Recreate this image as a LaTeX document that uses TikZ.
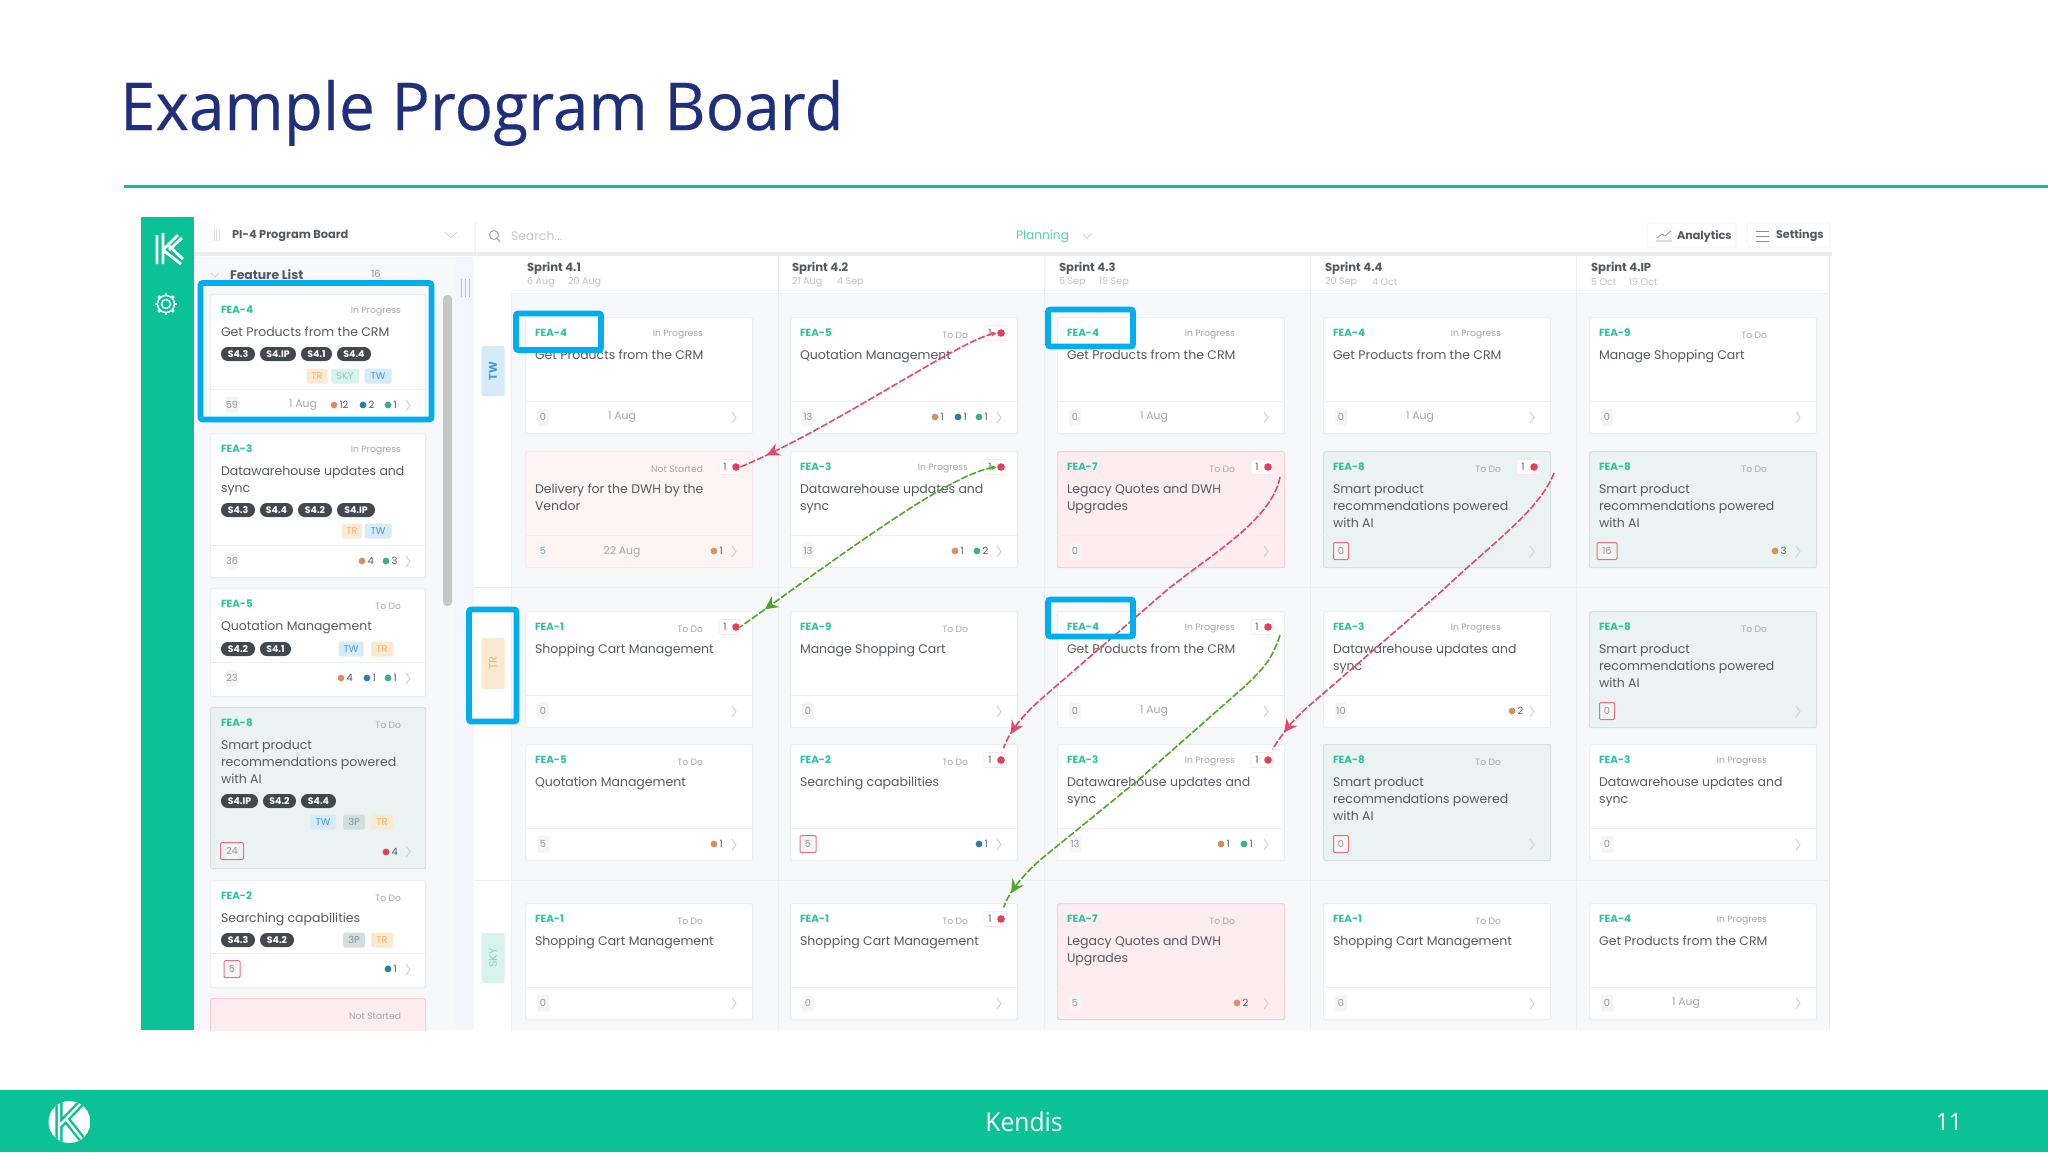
\documentclass[tikz,border=0pt]{standalone}
\usepackage{fontspec}
\setmainfont{Poppins}
\newfontfamily\slidefont[FakeStretch=0.967,FakeBold=0.25]{Open Sans}
\newfontfamily\footfont[FakeStretch=0.95]{Open Sans}
\usetikzlibrary{arrows.meta,decorations.markings}
\definecolor{kendis}{HTML}{0BC196}
\definecolor{navy}{HTML}{1F2F7C}
\definecolor{hilite}{HTML}{00AEEF}
\definecolor{inkdark}{HTML}{55595F}
\definecolor{inkgray}{HTML}{A4A7AB}
\definecolor{pilldark}{HTML}{42484F}
\definecolor{idgreen}{HTML}{2CC29C}
\definecolor{boardbg}{HTML}{F7F8FA}
\definecolor{linegray}{HTML}{ECEEF0}
\definecolor{cardgreen}{HTML}{EAF3F1}
\definecolor{cardpink}{HTML}{FDECF0}
\definecolor{cardrose}{HTML}{FDF4F3}
\definecolor{dotorange}{HTML}{D9905F}
\definecolor{dotblue}{HTML}{2E7FA8}
\definecolor{dotgreen}{HTML}{3FAF86}
\definecolor{dotred}{HTML}{E2405A}
\definecolor{linkred}{HTML}{E04A68}
\definecolor{linkgreen}{HTML}{4FA62C}
\definecolor{tagTRbg}{HTML}{FCE9D2}
\definecolor{tagTRfg}{HTML}{EDB36A}
\definecolor{tagSKYbg}{HTML}{D8F2EC}
\definecolor{tagSKYfg}{HTML}{86D6C4}
\definecolor{tagTWbg}{HTML}{D6EAF8}
\definecolor{tagTWfg}{HTML}{3F9BDD}
\definecolor{tagPbg}{HTML}{D3DEE0}
\definecolor{tagPfg}{HTML}{7E9098}
\tikzset{
  txt/.style={inner sep=0pt,outer sep=0pt},
  idtext/.style={txt,anchor=west,text=idgreen,font=\fontsize{5.2}{6}\selectfont\bfseries},
  statustext/.style={txt,anchor=east,text=inkgray,font=\fontsize{4.6}{6}\selectfont},
  titletext/.style={txt,anchor=north west,align=left,text=inkdark,font=\fontsize{6.25}{8.5}\selectfont},
  datetext/.style={txt,text=inkgray,font=\fontsize{5.4}{6}\selectfont},
  sprinttext/.style={txt,anchor=west,text=inkdark,font=\fontsize{5.8}{6}\selectfont\bfseries},
  sprintdate/.style={txt,anchor=west,text=inkgray!70,font=\fontsize{4.8}{6}\selectfont},
  numtext/.style={txt,text=inkdark,font=\fontsize{5}{6}\selectfont},
  cardbox/.style={draw=linegray,fill=white,line width=.6pt,rounded corners=1pt,anchor=north west,inner sep=0pt},
  plaincard/.style={},
  greencard/.style={fill=cardgreen,draw=cardgreen!92!black},
  pinkcard/.style={fill=cardpink,draw=dotred!25},
  rosecard/.style={fill=cardrose,draw=dotred!12},
  divider/.style={draw=linegray,line width=.5pt},
  countbox/.style={txt,fill=black!4,rounded corners=1pt,minimum width=6pt,minimum height=8.5pt,text=inkgray!90!black,font=\fontsize{4.9}{6}\selectfont},
  redcount/.style={draw=dotred!75,line width=.5pt,rounded corners=.6pt,minimum height=8.5pt,inner sep=0pt},
  chev/.style={draw=black!18,line width=.5pt},
  pill/.style={txt,anchor=west,fill=pilldark,text=white,rounded corners=3.4pt,minimum height=7pt,font=\fontsize{4.7}{6}\selectfont\bfseries},
  teamtag/.style={txt,rounded corners=.8pt,minimum height=7.5pt,font=\fontsize{4.9}{6}\selectfont},
  tagTR/.style={teamtag,fill=tagTRbg,text=tagTRfg},
  tagSKY/.style={teamtag,fill=tagSKYbg,text=tagSKYfg},
  tagTW/.style={teamtag,fill=tagTWbg,text=tagTWfg},
  tag3P/.style={teamtag,fill=tagPbg,text=tagPfg},
  statdot/.style={circle,inner sep=0pt,minimum size=3.4pt},
  flagbox/.style={fill=white,draw=dotred!12,line width=.3pt,rounded corners=.8pt,minimum width=11pt,minimum height=7.5pt,inner sep=0pt},
  hibox/.style={draw=hilite,line width=2.8pt,rounded corners=1pt},
  redlink/.style={draw=linkred,line width=.8pt,dash pattern=on 3.5pt off 1pt},
  greenlink/.style={draw=linkgreen,line width=.8pt,dash pattern=on 3.5pt off 1pt},
  linkmark/.style={postaction={decorate,decoration={markings,mark=at position #1 with {\arrow{Stealth[length=6.5pt,width=6.5pt]}}}}},
  btnbox/.style={draw=linegray,fill=white,line width=.4pt,rounded corners=1pt},
}
% name, x, y, id, status, title, card style, count, date
\newcommand{\boardcard}[9]{%
  \begin{scope}[shift={(#2,#3)}]
    \node[cardbox,#7,minimum width=113.5pt,minimum height=58pt] (#1) at (0,0) {};
    \draw[divider] (0,84) -- (227,84);
    \node[idtext] (#1-id) at (10,16) {#4};
    \node[statustext] (#1-status) at (178,18) {#5};
    \node[titletext] (#1-title) at (10,33) {#6};
    \node[countbox] (#1-count) at (18,100) {#8};
    \node[datetext] (#1-date) at (97,100.5) {#9};
    \draw[chev] (207,95) -- (211,100.5) -- (207,106);
  \end{scope}}
% name, y, height, divider, id, status, title, card style, count
\newcommand{\featurecard}[9]{%
  \begin{scope}[shift={(210,#2)}]
    \node[cardbox,#8,minimum width=107.5pt,minimum height=#3*0.5pt] (#1) at (0,0) {};
    \draw[divider] (0,#4) -- (215,#4);
    \node[idtext] (#1-id) at (11,16) {#5};
    \node[statustext] (#1-status) at (191,18) {#6};
    \node[titletext] (#1-title) at (11,33) {#7};
    \node[countbox] (#1-count) at (22,#4+16) {#9};
    \draw[chev] (196,#4+11) -- (200,#4+16.5) -- (196,#4+22);
  \end{scope}}
% red 1 and dot at the top right of a card
\newcommand{\cardflag}[1]{%
  \begin{scope}[shift={(#1.north west)}]
    \node[flagbox] (#1-flag) at (205,16) {};
    \node[numtext] (#1-flagnum) at (200,16) {1};
    \node[statdot,fill=dotred,minimum size=3.8pt] (#1-flagdot) at (211,16) {};
  \end{scope}}
% card, footer y, list of x/colour/number
\newcommand{\cardstats}[3]{%
  \begin{scope}[shift={(#1.north west)}]
    \foreach \sx/\scol/\snum in {#3} {
      \node[statdot,fill=\scol] (#1-d\sx) at (\sx,#2) {};
      \node[numtext,anchor=west] (#1-n\sx) at (\sx+5.5,#2) {\snum};
    }
  \end{scope}}
% card, y, list of x/width/text
\newcommand{\cardpills}[3]{%
  \begin{scope}[shift={(#1.north west)}]
    \foreach \px/\pw/\ptxt in {#3}
      \node[pill,minimum width=\pw*0.5pt] (#1-p\px) at (\px,#2) {\ptxt};
  \end{scope}}
% card, y, list of x/width/tag name
\newcommand{\cardtags}[3]{%
  \begin{scope}[shift={(#1.north west)}]
    \foreach \tx/\tw/\ttxt in {#3}
      \node[tag\ttxt,minimum width=\tw*0.5pt] (#1-t\tx) at (\tx,#2) {\ttxt};
  \end{scope}}
\newcommand{\getcrm}{Get Products from the CRM}
\newcommand{\dwh}{Datawarehouse updates and\\sync}
\newcommand{\smartai}{Smart product\\recommendations powered\\with AI}
\newcommand{\cart}{Shopping Cart Management}
\newcommand{\legacy}{Legacy Quotes and DWH\\Upgrades}
\begin{document}
\begin{tikzpicture}[x=0.5pt,y=-0.5pt]
  \useasboundingbox (0,0) rectangle (2048,1152);
  % Slide title and rule
  \node[txt,anchor=base west,text=navy,font=\slidefont\fontsize{33}{36}\selectfont] (slidetitle) at (120,130) {Example Program Board};
  \draw[kendis,line width=1.6pt] (124,186.5) -- (2048,186.5);
  % Footer band
  \fill[kendis] (0,1090) rectangle (2048,1152);
  \node[txt,text=white,font=\footfont\fontsize{13}{16}\selectfont] (footname) at (1024,1122) {Kendis};
  \node[txt,text=white,font=\footfont\fontsize{12}{16}\selectfont] (footpage) at (1949,1122) {11};
  % Footer logo
  \begin{scope}
    \clip (69.5,1122) circle (21);
    \fill[white] (69.5,1122) circle (21);
    \draw[kendis,line width=3.6pt] (59,1098) -- (59,1146) (59,1126) -- (84,1100) (66,1119) -- (86,1144);
    \draw[white,line width=1.2pt] (59,1098) -- (59,1146) (59,1126) -- (84,1100) (66,1119) -- (86,1144);
  \end{scope}
  % Screenshot of the board
  \begin{scope}
    \clip (141,217) rectangle (1832,1030);
    \fill[white] (141,217) rectangle (1832,1030);
    \fill[kendis] (141,217) rectangle (194,1030);
    \fill[boardbg] (194,257) rectangle (455,1030);
    \fill[black!4!blue!4!white] (455,257) rectangle (474,1030);
    \fill[boardbg] (511,293) rectangle (1829,1030);
    \fill[black!7] (194,252) rectangle (1832,256);
    % Sidebar logo and gear
    \draw[white,line width=1.4pt] (157,235) -- (157,264) (163,233) -- (163,264) (163,250) -- (178,235) (163,250) -- (181,264) (169,250) -- (182,238) (169,246) -- (183,259);
    \draw[white,line width=.7pt] (166,304) circle (4.5) (166,304) circle (8.5);
    \foreach \ga in {0,45,...,315}
      \draw[white,line width=1.3pt] (166,304) ++(\ga:8.5) -- ++(\ga:2.5);
    % Top bar
    \foreach \hx in {214,216.5,219}
      \draw[black!15,line width=.4pt] (\hx,230) -- (\hx,241);
    \node[txt,anchor=west,text=inkdark,font=\fontsize{5.7}{6}\selectfont\bfseries] (boardname) at (232,236) {PI-4 Program Board};
    \draw[chev] (445,232) -- (451,238) -- (457,232);
    \draw[divider] (475,222) -- (475,252);
    \draw[black!35,line width=.5pt] (494,235) circle (4.5) (497,238.5) -- (500,242);
    \node[txt,anchor=west,text=black!22,font=\fontsize{6.2}{6}\selectfont] (searchtext) at (511,236) {Search...};
    \node[txt,anchor=west,text=idgreen!80,font=\fontsize{6.1}{6}\selectfont] (planning) at (1016,236) {Planning};
    \draw[chev] (1083,234) -- (1087,238) -- (1091,234);
    \draw[btnbox] (1647,223) rectangle (1736,247);
    \draw[btnbox] (1747,223) rectangle (1830,247);
    \draw[black!40,line width=.4pt] (1656,241) -- (1672,241) (1657,238) -- (1662,234) -- (1665,236) -- (1671,231);
    \node[txt,anchor=west,text=inkdark,font=\fontsize{5.6}{6}\selectfont\bfseries] (analytics) at (1677,236) {Analytics};
    \draw[black!45,line width=.5pt] (1756,231) -- (1769,231) (1756,236) -- (1769,236) (1756,241) -- (1769,241);
    \node[txt,anchor=west,text=inkdark,font=\fontsize{5.6}{6}\selectfont\bfseries] (settings) at (1776,236) {Settings};
    % Feature list head
    \draw[chev] (211,273) -- (215,277) -- (219,273);
    \node[txt,anchor=west,text=inkdark,font=\fontsize{6.2}{6}\selectfont\bfseries] (featlist) at (230,275) {Feature List};
    \node[countbox] (featcount) at (376,274) {16};
    % Scrollbar and handle
    \fill[black!22,rounded corners=2pt] (443,295) rectangle (452,606);
    \foreach \hx in {461,465,469}
      \draw[black!25,line width=.5pt] (\hx,279) -- (\hx,297);
    % Grid lines and sprint heads
    \foreach \gx in {778,1044,1310,1576,1829}
      \draw[divider] (\gx,256) -- (\gx,1030);
    \draw[divider] (511,293) -- (1829,293) (474,587) -- (1829,587) (474,880) -- (1829,880) (511,293) -- (511,1030);
    \node[sprinttext] (sp1) at (527,268) {Sprint 4.1};
    \node[sprintdate] (sp1a) at (527,282) {6 Aug};
    \node[sprintdate] (sp1b) at (568,282) {20 Aug};
    \node[sprinttext] (sp2) at (792,268) {Sprint 4.2};
    \node[sprintdate] (sp2a) at (792,282) {21 Aug};
    \node[sprintdate] (sp2b) at (837,282) {4 Sep};
    \node[sprinttext] (sp3) at (1059,268) {Sprint 4.3};
    \node[sprintdate] (sp3a) at (1059,282) {5 Sep};
    \node[sprintdate] (sp3b) at (1099,282) {19 Sep};
    \node[sprinttext] (sp4) at (1325,268) {Sprint 4.4};
    \node[sprintdate] (sp4a) at (1325,282) {20 Sep};
    \node[sprintdate] (sp4b) at (1372,282) {4 Oct};
    \node[sprinttext] (sp5) at (1591,268) {Sprint 4.IP};
    \node[sprintdate] (sp5a) at (1591,282) {5 Oct};
    \node[sprintdate] (sp5b) at (1629,282) {19 Oct};
    % Lane labels
    \node[tagTW,minimum width=11.5pt,minimum height=25pt,font=\fontsize{5.6}{6}\selectfont\bfseries] (laneTW) at (493,371) {\rotatebox{90}{TW}};
    \node[tagTR,minimum width=11.5pt,minimum height=25.5pt,font=\fontsize{5.6}{6}\selectfont] (laneTR) at (493,663.5) {\rotatebox{90}{TR}};
    \node[tagSKY,minimum width=11.5pt,minimum height=25pt,font=\fontsize{5.6}{6}\selectfont] (laneSKY) at (493,958) {\rotatebox{90}{SKY}};
    % Feature list cards
    \featurecard{f1}{294}{128}{95}{FEA-4}{In Progress}{\getcrm}{plaincard}{59}
    \node[datetext] (f1-date) at (303,405.5) {1 Aug};
    \cardpills{f1}{60}{11/34/S4.3,50/36/S4.IP,91/31/S4.1,127/34/S4.4}
    \cardtags{f1}{82}{107/21/TR,135/28/SKY,168/27/TW}
    \cardstats{f1}{111}{124/dotorange/12,153/dotblue/2,178/dotgreen/1}
    \featurecard{f2}{433}{144}{112}{FEA-3}{In Progress}{\dwh}{plaincard}{36}
    \cardpills{f2}{77}{11/34/S4.3,50/33/S4.4,88/34/S4.2,127/38/S4.IP}
    \cardtags{f2}{98}{142/20/TR,168/27/TW}
    \cardstats{f2}{128}{152/dotorange/4,176/dotgreen/3}
    \featurecard{f3}{588}{108}{74}{FEA-5}{To Do}{Quotation Management}{plaincard}{23}
    \cardpills{f3}{61}{11/34/S4.2,50/31/S4.1}
    \cardtags{f3}{61}{141/25/TW,172/22/TR}
    \cardstats{f3}{90}{131/dotorange/4,157/dotblue/1,178/dotgreen/1}
    \featurecard{f4}{707}{161}{128}{FEA-8}{To Do}{\smartai}{greencard}{24}
    \node[redcount,minimum width=11.5pt] (f4-red) at (f4-count) {};
    \cardpills{f4}{94}{11/37/S4.IP,53/33/S4.2,91/35/S4.4}
    \cardtags{f4}{115}{113/26/TW,144/22/3P,172/22/TR}
    \cardstats{f4}{145}{176/dotred/4}
    \featurecard{f5}{880}{107}{73}{FEA-2}{To Do}{Searching capabilities}{plaincard}{5}
    \node[redcount,minimum width=8pt] (f5-red) at (f5-count) {};
    \cardpills{f5}{60}{11/34/S4.3,50/34/S4.2}
    \cardtags{f5}{60}{144/22/3P,172/22/TR}
    \cardstats{f5}{89}{178/dotblue/1}
    \featurecard{f6}{998}{60}{60}{}{Not Started}{}{pinkcard}{}
    % Board cards, lane TW
    \boardcard{c11}{525}{317}{FEA-4}{In Progress}{\getcrm}{plaincard}{0}{1 Aug}
    \boardcard{c12}{790}{317}{FEA-5}{To Do}{Quotation Management}{plaincard}{13}{}
    \cardflag{c12}
    \cardstats{c12}{100}{145/dotorange/1,168/dotblue/1,189/dotgreen/1}
    \boardcard{c13}{1057}{317}{FEA-4}{In Progress}{\getcrm}{plaincard}{0}{1 Aug}
    \boardcard{c14}{1323}{317}{FEA-4}{In Progress}{\getcrm}{plaincard}{0}{1 Aug}
    \boardcard{c15}{1589}{317}{FEA-9}{To Do}{Manage Shopping Cart}{plaincard}{0}{}
    \boardcard{c21}{525}{451}{}{Not Started}{Delivery for the DWH by the\\Vendor}{rosecard}{5}{22 Aug}
    \cardflag{c21}
    \cardstats{c21}{100}{189/dotorange/1}
    \boardcard{c22}{790}{451}{FEA-3}{In Progress}{\dwh}{plaincard}{13}{}
    \cardflag{c22}
    \cardstats{c22}{100}{165/dotorange/1,187/dotgreen/2}
    \boardcard{c23}{1057}{451}{FEA-7}{To Do}{\legacy}{pinkcard}{0}{}
    \cardflag{c23}
    \boardcard{c24}{1323}{451}{FEA-8}{To Do}{\smartai}{greencard}{0}{}
    \cardflag{c24}
    \node[redcount,minimum width=7.5pt] (c24-red) at (c24-count) {};
    \boardcard{c25}{1589}{451}{FEA-8}{To Do}{\smartai}{greencard}{16}{}
    \node[redcount,minimum width=10pt] (c25-red) at (c25-count) {};
    \cardstats{c25}{100}{186/dotorange/3}
    % Board cards, lane TR
    \boardcard{c31}{525}{611}{FEA-1}{To Do}{\cart}{plaincard}{0}{}
    \cardflag{c31}
    \boardcard{c32}{790}{611}{FEA-9}{To Do}{Manage Shopping Cart}{plaincard}{0}{}
    \boardcard{c33}{1057}{611}{FEA-4}{In Progress}{\getcrm}{plaincard}{0}{1 Aug}
    \cardflag{c33}
    \boardcard{c34}{1323}{611}{FEA-3}{In Progress}{\dwh}{plaincard}{10}{}
    \cardstats{c34}{100}{189/dotorange/2}
    \boardcard{c35}{1589}{611}{FEA-8}{To Do}{\smartai}{greencard}{0}{}
    \node[redcount,minimum width=7.5pt] (c35-red) at (c35-count) {};
    \boardcard{c41}{525}{744}{FEA-5}{To Do}{Quotation Management}{plaincard}{5}{}
    \cardstats{c41}{100}{189/dotorange/1}
    \boardcard{c42}{790}{744}{FEA-2}{To Do}{Searching capabilities}{plaincard}{5}{}
    \node[redcount,minimum width=8pt] (c42-red) at (c42-count) {};
    \cardflag{c42}
    \cardstats{c42}{100}{189/dotblue/1}
    \boardcard{c43}{1057}{744}{FEA-3}{In Progress}{\dwh}{plaincard}{13}{}
    \cardflag{c43}
    \cardstats{c43}{100}{164/dotorange/1,187/dotgreen/1}
    \boardcard{c44}{1323}{744}{FEA-8}{To Do}{\smartai}{greencard}{0}{}
    \node[redcount,minimum width=7.5pt] (c44-red) at (c44-count) {};
    \boardcard{c45}{1589}{744}{FEA-3}{In Progress}{\dwh}{plaincard}{0}{}
    % Board cards, lane SKY
    \boardcard{c51}{525}{903}{FEA-1}{To Do}{\cart}{plaincard}{0}{}
    \boardcard{c52}{790}{903}{FEA-1}{To Do}{\cart}{plaincard}{0}{}
    \cardflag{c52}
    \boardcard{c53}{1057}{903}{FEA-7}{To Do}{\legacy}{pinkcard}{5}{}
    \cardstats{c53}{100}{180/dotorange/2}
    \boardcard{c54}{1323}{903}{FEA-1}{To Do}{\cart}{plaincard}{0}{}
    \boardcard{c55}{1589}{903}{FEA-4}{In Progress}{\getcrm}{plaincard}{0}{1 Aug}
    % Dependency links
    \coordinate (lk3) at (1280,477);
    \coordinate (lk4) at (1554,473);
    \coordinate (lk5) at (1280,635);
    \draw[redlink,linkmark=.9,{Stealth[length=3pt,width=2.6pt]}-] (c12-flagdot.west) .. controls (960,340) and (830,430) .. (c21-flagdot.east);
    \draw[greenlink,linkmark=.9,{Stealth[length=3pt,width=2.6pt]}-] (c22-flagdot.west) .. controls (950,474) and (848,550) .. (c31-flagdot.east);
    \draw[redlink,linkmark=.94,shorten >=4pt] (lk3) .. controls (1272,520) and (1210,555) .. (1167,590) -- (1040,700) .. controls (1018,720) and (1008,735) .. (c42-flagdot.north);
    \draw[redlink,linkmark=.93,shorten >=4pt] (lk4) .. controls (1540,510) and (1490,545) .. (1443,590) -- (1310,705) .. controls (1290,722) and (1282,735) .. (c43-flagdot.north);
    \draw[greenlink,linkmark=.94,shorten >=4pt] (lk5) .. controls (1272,660) and (1262,670) .. (1244,687) -- (1142,777) -- (1040,860) .. controls (1018,880) and (1008,895) .. (c52-flagdot.north);
  \end{scope}
  % Highlight boxes
  \draw[hibox] (200.5,283) rectangle (431.5,419.5);
  \draw[hibox] (516,313.5) rectangle (601,350);
  \draw[hibox] (1048,309.5) rectangle (1133,346.5);
  \draw[hibox] (1048,599.5) rectangle (1133,636.5);
  \draw[hibox] (469,609.5) rectangle (516.5,721.5);
\end{tikzpicture}
\end{document}
